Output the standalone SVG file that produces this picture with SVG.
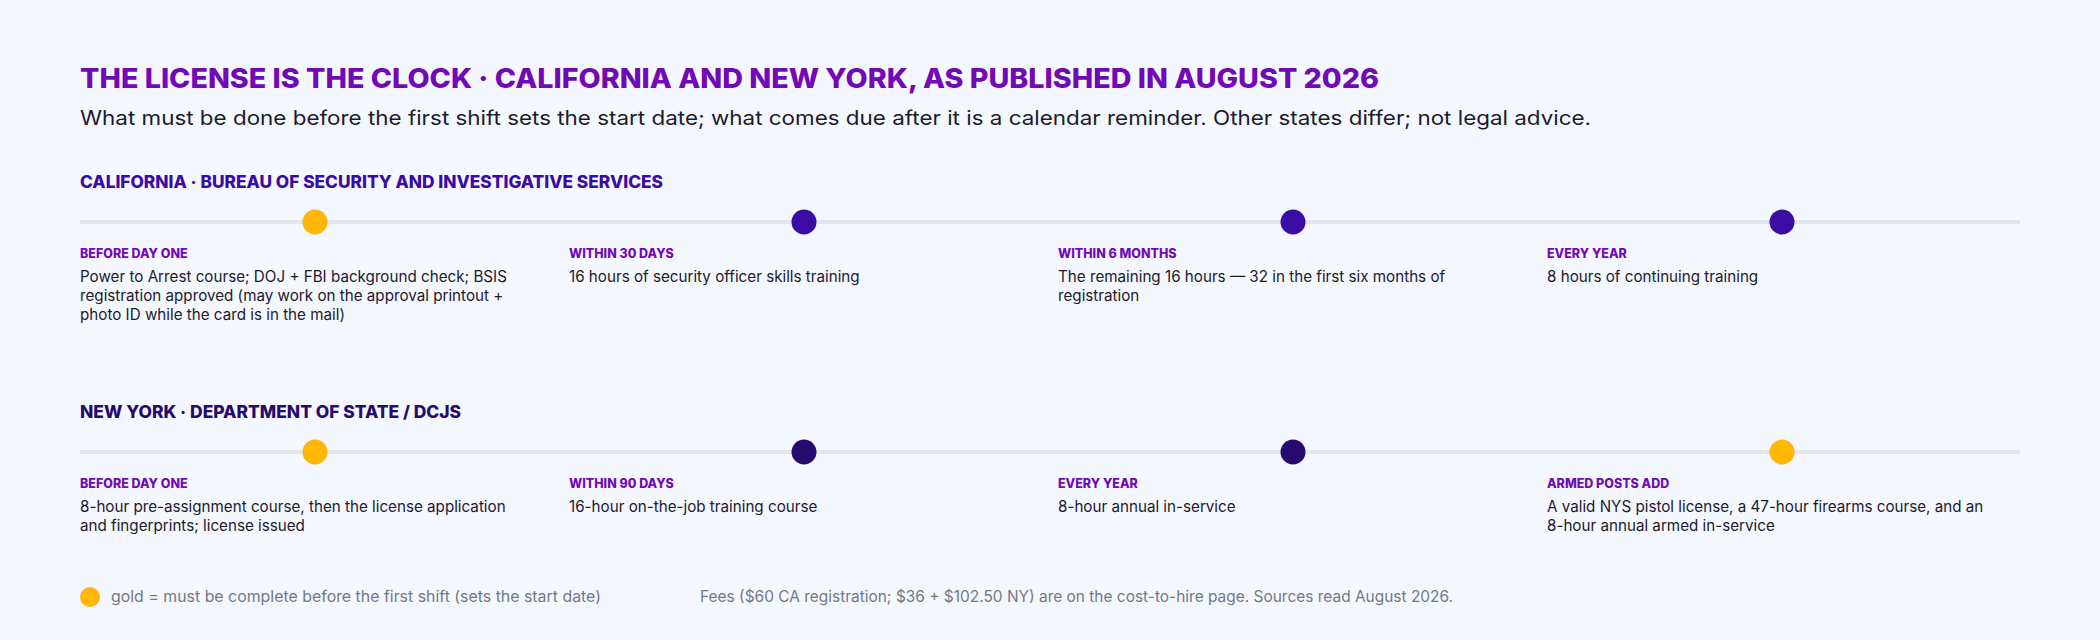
<svg xmlns="http://www.w3.org/2000/svg" width="2100" height="640" viewBox="0 0 2100 640">
<style>
.bg{fill:#f4f7fe}
.title{font-family:Inter,"Liberation Sans",sans-serif;font-weight:800;font-size:27px;fill:#7209b7}
.sub{font-family:Inter,"Liberation Sans",sans-serif;font-size:20px;fill:#1c1a2e}
.hdr{font-family:Inter,"Liberation Sans",sans-serif;font-weight:800;font-size:17px}
.ca{fill:#3a0ca3}
.ny{fill:#260a6e}
.lbl{font-family:Inter,"Liberation Sans",sans-serif;font-weight:800;font-size:12.5px;fill:#7209b7}
.body{font-family:Inter,"Liberation Sans",sans-serif;font-size:15.2px;fill:#1c1a2e}
.foot{font-family:Inter,"Liberation Sans",sans-serif;font-size:15.5px;fill:#737787}
.track{stroke:#e3e6f0;stroke-width:4;fill:none}
.gold{fill:#ffb703}
</style>
<rect class="bg" x="0" y="0" width="2100" height="640"/>
<text class="title" x="80" y="88" textLength="1299" lengthAdjust="spacingAndGlyphs">THE LICENSE IS THE CLOCK · CALIFORNIA AND NEW YORK, AS PUBLISHED IN AUGUST 2026</text>
<text class="sub" x="80" y="125" textLength="1511" lengthAdjust="spacingAndGlyphs">What must be done before the first shift sets the start date; what comes due after it is a calendar reminder. Other states differ; not legal advice.</text>
<text class="hdr ca" x="80" y="188" textLength="583" lengthAdjust="spacingAndGlyphs">CALIFORNIA · BUREAU OF SECURITY AND INVESTIGATIVE SERVICES</text>
<text class="hdr ny" x="80" y="418" textLength="381" lengthAdjust="spacingAndGlyphs">NEW YORK · DEPARTMENT OF STATE / DCJS</text>
<g id="connectors">
<line class="track" x1="80" y1="222" x2="2020" y2="222"/>
<line class="track" x1="80" y1="452" x2="2020" y2="452"/>
</g>
<g id="ca-before-day-one">
<circle class="gold" cx="315" cy="222" r="12.5"/>
<text class="lbl" x="80" y="258">BEFORE DAY ONE</text>
<text class="body" x="80" y="282">Power to Arrest course; DOJ + FBI background check; BSIS</text>
<text class="body" x="80" y="301">registration approved (may work on the approval printout +</text>
<text class="body" x="80" y="320">photo ID while the card is in the mail)</text>
</g>
<g id="ca-within-30-days">
<circle class="ca" cx="804" cy="222" r="12.5"/>
<text class="lbl" x="569" y="258">WITHIN 30 DAYS</text>
<text class="body" x="569" y="282">16 hours of security officer skills training</text>
</g>
<g id="ca-within-6-months">
<circle class="ca" cx="1293" cy="222" r="12.5"/>
<text class="lbl" x="1058" y="258">WITHIN 6 MONTHS</text>
<text class="body" x="1058" y="282">The remaining 16 hours — 32 in the first six months of</text>
<text class="body" x="1058" y="301">registration</text>
</g>
<g id="ca-every-year">
<circle class="ca" cx="1782" cy="222" r="12.5"/>
<text class="lbl" x="1547" y="258">EVERY YEAR</text>
<text class="body" x="1547" y="282">8 hours of continuing training</text>
</g>
<g id="ny-before-day-one">
<circle class="gold" cx="315" cy="452" r="12.5"/>
<text class="lbl" x="80" y="488">BEFORE DAY ONE</text>
<text class="body" x="80" y="512">8-hour pre-assignment course, then the license application</text>
<text class="body" x="80" y="531">and fingerprints; license issued</text>
</g>
<g id="ny-within-90-days">
<circle class="ny" cx="804" cy="452" r="12.5"/>
<text class="lbl" x="569" y="488">WITHIN 90 DAYS</text>
<text class="body" x="569" y="512">16-hour on-the-job training course</text>
</g>
<g id="ny-every-year">
<circle class="ny" cx="1293" cy="452" r="12.5"/>
<text class="lbl" x="1058" y="488">EVERY YEAR</text>
<text class="body" x="1058" y="512">8-hour annual in-service</text>
</g>
<g id="ny-armed-posts-add">
<circle class="gold" cx="1782" cy="452" r="12.5"/>
<text class="lbl" x="1547" y="488">ARMED POSTS ADD</text>
<text class="body" x="1547" y="512">A valid NYS pistol license, a 47-hour firearms course, and an</text>
<text class="body" x="1547" y="531">8-hour annual armed in-service</text>
</g>
<g id="legend">
<circle class="gold" cx="90" cy="597" r="10"/>
<text class="foot" x="111" y="602" textLength="490" lengthAdjust="spacingAndGlyphs">gold = must be complete before the first shift (sets the start date)</text>
<text class="foot" x="700" y="602" textLength="753" lengthAdjust="spacingAndGlyphs">Fees ($60 CA registration; $36 + $102.50 NY) are on the cost-to-hire page. Sources read August 2026.</text>
</g>
</svg>
